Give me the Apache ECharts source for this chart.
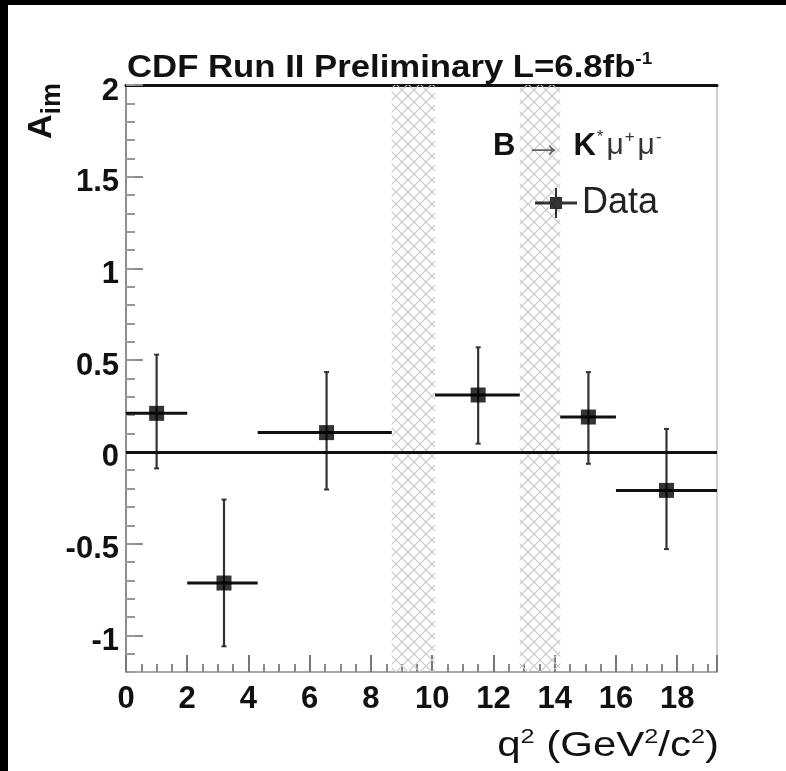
<!DOCTYPE html>
<html>
<head>
<meta charset="utf-8">
<script src="https://cdn.jsdelivr.net/npm/echarts@6/dist/echarts.min.js"></script>
<style>
html,body{margin:0;padding:0;background:#fff;}
#chart{width:786px;height:771px;}
</style>
</head>
<body>
<div id="chart"></div>
<script>
// ---- data ----
const binLow    = [0, 2, 4.3, 10.09, 14.18, 16];
const binHigh   = [2, 4.3, 8.68, 12.86, 16, 19.3];
const binCenter = [1.0, 3.2, 6.55, 11.5, 15.1, 17.65];
const aImValue  = [0.21, -0.715, 0.105, 0.31, 0.19, -0.21];
const errUp     = [0.32, 0.455, 0.33, 0.26, 0.245, 0.335];
const errDown   = [0.30, 0.345, 0.31, 0.265, 0.255, 0.32];
const vetoLow   = [8.68, 12.86];
const vetoHigh  = [10.09, 14.18];
const xTickLabels = ['0','2','4','6','8','10','12','14','16','18'];
const yTickLabels = ['-1','-0.5','0','0.5','1','1.5','2'];
const X_MIN = 0, X_MAX = 19.3, Y_MIN = -1.2, Y_MAX = 2;

const FONT = '"Liberation Sans", Arial, Helvetica, sans-serif';

// cross-hatch pattern for the vetoed q2 regions
const pc = document.createElement('canvas');
pc.width = 12; pc.height = 12;
const g = pc.getContext('2d');
g.strokeStyle = '#c8c8c8';
g.lineWidth = 1.2;
g.beginPath();
g.moveTo(0, 0); g.lineTo(12, 12);
g.moveTo(12, 0); g.lineTo(0, 12);
g.stroke();
const hatch = { image: pc, repeat: 'repeat' };

const bandData = vetoLow.map((v, i) => [v, vetoHigh[i]]);
const errData = binCenter.map((x, i) => [x, aImValue[i], binLow[i], binHigh[i], aImValue[i] - errDown[i], aImValue[i] + errUp[i]]);
const pointData = binCenter.map((x, i) => [x, aImValue[i]]);

const chart = echarts.init(document.getElementById('chart'), null, { renderer: 'canvas' });

const option = {
  backgroundColor: '#ffffff',
  animation: false,
  grid: { left: 126, right: 69, top: 85, bottom: 99, containLabel: false },
  xAxis: [
    {
      type: 'value', min: X_MIN, max: X_MAX, interval: 2, position: 'bottom',
      axisLine: { show: true, onZero: false, lineStyle: { color: '#a8a8a8', width: 2 } },
      axisTick: { show: true, inside: true, length: 17, lineStyle: { color: '#777', width: 2 } },
      minorTick: { show: true, splitNumber: 4, length: 8, lineStyle: { color: '#888', width: 2 } },
      splitLine: { show: false },
      axisLabel: {
        show: true, margin: 12, color: '#111',
        fontFamily: FONT, fontWeight: 'bold', fontSize: 31,
        formatter: v => { const s = String(Math.round(v)); return (Math.abs(v - Math.round(v)) < 1e-6 && xTickLabels.includes(s)) ? s : ''; }
      }
    },
    {
      type: 'value', position: 'top', min: X_MIN, max: X_MAX,
      axisLine: { show: true, onZero: false, lineStyle: { color: '#111', width: 3 } },
      axisTick: { show: false }, axisLabel: { show: false }, splitLine: { show: false }
    }
  ],
  yAxis: [
    {
      type: 'value', min: Y_MIN, max: Y_MAX, position: 'left',
      axisLine: { show: true, onZero: false, lineStyle: { color: '#909090', width: 2 } },
      axisTick: { show: true, inside: true, length: 17, customValues: yTickLabels.map(Number), lineStyle: { color: '#888', width: 2 } },
      axisLabel: {
        show: true, customValues: yTickLabels.map(Number), margin: 7, color: '#111',
        fontFamily: FONT, fontWeight: 'bold', fontSize: 31,
        verticalAlign: 'top', lineHeight: 12,
        formatter: v => { const s = String(+v.toFixed(2)); return yTickLabels.includes(s) ? s : ''; }
      },
      splitLine: { show: false }
    },
    {
      type: 'value', position: 'left', min: Y_MIN, max: Y_MAX, interval: 0.1,
      axisLine: { show: false, onZero: false },
      axisTick: { show: true, inside: true, length: 9, lineStyle: { color: '#999', width: 2 } },
      axisLabel: { show: false }, splitLine: { show: false }
    },
    {
      type: 'value', position: 'right', min: Y_MIN, max: Y_MAX,
      axisLine: { show: true, onZero: false, lineStyle: { color: '#cfcfcf', width: 2 } },
      axisTick: { show: false }, axisLabel: { show: false }, splitLine: { show: false }
    }
  ],
  legend: {
    show: true, left: 530, top: 180, orient: 'vertical',
    itemWidth: 42, itemHeight: 30,
    data: [{ name: 'Data', icon: 'path://M0,13.5 L42,13.5 L42,16.5 L0,16.5 Z M20,0 L22,0 L22,30 L20,30 Z M15,9 L27,9 L27,21 L15,21 Z' }],
    itemStyle: { color: '#000' },
    textStyle: { fontFamily: FONT, fontSize: 36, color: '#222' }
  },
  series: [
    {
      type: 'custom', name: 'veto', silent: true, z: 1,
      data: bandData,
      renderItem: (params, api) => {
        const p0 = api.coord([api.value(0), Y_MAX]);
        const p1 = api.coord([api.value(1), Y_MIN]);
        return { type: 'rect', shape: { x: p0[0], y: p0[1], width: p1[0] - p0[0], height: p1[1] - p0[1] }, style: { fill: hatch } };
      },
      encode: { x: [0, 1] }
    },
    {
      type: 'custom', name: 'errors', z: 3,
      data: errData,
      clip: true,
      renderItem: (params, api) => {
        const c = api.coord([api.value(0), api.value(1)]);
        const l = api.coord([api.value(2), api.value(1)]);
        const r = api.coord([api.value(3), api.value(1)]);
        const lo = api.coord([api.value(0), api.value(4)]);
        const hi = api.coord([api.value(0), api.value(5)]);
        return {
          type: 'group',
          children: [
            { type: 'line', shape: { x1: l[0], y1: c[1], x2: r[0], y2: c[1] }, style: { stroke: '#111', lineWidth: 3 } },
            { type: 'line', shape: { x1: c[0], y1: hi[1], x2: c[0], y2: lo[1] }, style: { stroke: '#333', lineWidth: 2.2 } },
            { type: 'line', shape: { x1: c[0] - 2.5, y1: hi[1], x2: c[0] + 2.5, y2: hi[1] }, style: { stroke: '#333', lineWidth: 2 } },
            { type: 'line', shape: { x1: c[0] - 2.5, y1: lo[1], x2: c[0] + 2.5, y2: lo[1] }, style: { stroke: '#333', lineWidth: 2 } }
          ]
        };
      },
      encode: { x: 0, y: 1 },
      markLine: {
        silent: true, symbol: ['none', 'none'], label: { show: false },
        lineStyle: { color: '#111', width: 3, type: 'solid' },
        data: [{ yAxis: 0 }]
      }
    },
    {
      type: 'scatter', name: 'Data', z: 4,
      symbol: 'rect', symbolSize: 15,
      itemStyle: { color: '#000' },
      data: pointData
    }
  ],
  graphic: [
    { type: 'rect', shape: { x: 0, y: 0, width: 8, height: 771 }, style: { fill: '#000' }, z: 100 },
    { type: 'rect', shape: { x: 0, y: 0, width: 786, height: 5 }, style: { fill: '#000' }, z: 100 },
    {
      type: 'text', x: 127, y: 68, scaleX: 1.12, z: 50,
      style: {
        text: '{m|CDF Run II Preliminary L=6.8fb}{s|-1}',
        align: 'left', verticalAlign: 'middle',
        rich: {
          m: { fontFamily: FONT, fontWeight: 'bold', fontSize: 31, fill: '#111', lineHeight: 34 },
          s: { fontFamily: FONT, fontWeight: 'bold', fontSize: 17, fill: '#111', verticalAlign: 'top', lineHeight: 18 }
        }
      }
    },
    {
      type: 'text', x: 42, y: 83, rotation: Math.PI / 2, z: 50,
      style: {
        text: '{a|A}{s|im}',
        align: 'right', verticalAlign: 'middle',
        rich: {
          a: { fontFamily: FONT, fontWeight: 'bold', fontSize: 34, fill: '#111', lineHeight: 48 },
          s: { fontFamily: FONT, fontWeight: 'bold', fontSize: 27, fill: '#111', verticalAlign: 'bottom', lineHeight: 16 }
        }
      }
    },
    {
      type: 'text', x: 719, y: 746, scaleX: 1.2, z: 50,
      style: {
        text: '{m|q}{s|2}{m| (GeV}{s|2}{m|/c}{s|2}{m|)}',
        align: 'right', verticalAlign: 'middle',
        rich: {
          m: { fontFamily: FONT, fontSize: 35, fill: '#111', lineHeight: 38 },
          s: { fontFamily: FONT, fontSize: 21, fill: '#111', verticalAlign: 'top', lineHeight: 20 }
        }
      }
    },
    {
      type: 'text', x: 493, y: 146, z: 50,
      style: {
        text: '{b|B}{r|→}{b|K}{t|*}{u|μ}{t|+}{u|μ}{t|-}',
        align: 'left', verticalAlign: 'middle',
        rich: {
          b: { fontFamily: FONT, fontWeight: 'bold', fontSize: 31, fill: '#111', lineHeight: 34 },
          r: { fontFamily: FONT, fontSize: 40, fill: '#666', lineHeight: 34, padding: [0, 10, 0, 8] },
          t: { fontFamily: FONT, fontSize: 17, fill: '#333', verticalAlign: 'top', lineHeight: 18, padding: [0, 3, 0, 1] },
          u: { fontFamily: FONT, fontSize: 30, fill: '#333', lineHeight: 34 }
        }
      }
    }
  ]
};
chart.setOption(option);
</script>
</body>
</html>
